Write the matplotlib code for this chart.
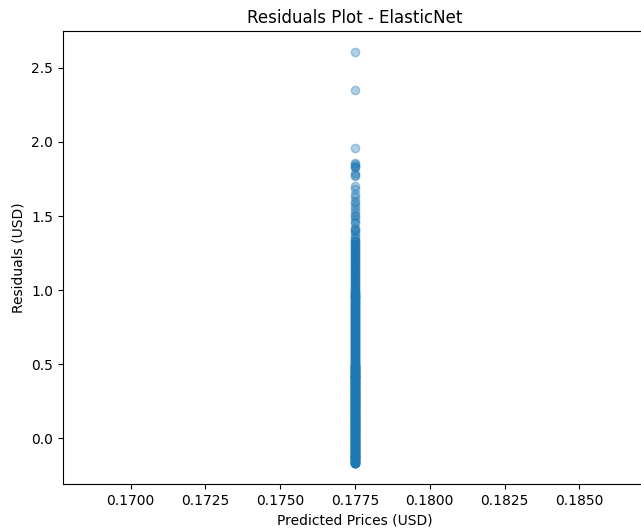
import numpy as np
import matplotlib
matplotlib.use("Agg")
import matplotlib.pyplot as plt

predicted_value = 0.1775

# Outliers and sparse upper points (one point each)
sparse_residuals = [2.61, 2.35, 1.96,
                    1.86, 1.85, 1.84, 1.83, 1.83, 1.79, 1.78, 1.77,
                    1.70, 1.68, 1.65, 1.63, 1.60, 1.59, 1.57, 1.55, 1.53,
                    1.51, 1.50, 1.48, 1.46, 1.45, 1.42, 1.41, 1.40, 1.40,
                    1.38, 1.36, 1.35]

# Dense region: residual value and number of points at that value
dense_residuals = [1.33, 1.31, 1.29, 1.27, 1.25, 1.23, 1.21, 1.19, 1.17, 1.15,
                   1.13, 1.11, 1.09, 1.07, 1.05, 1.03, 1.01,
                   0.99, 0.97, 0.95, 0.93, 0.91, 0.89, 0.87, 0.85, 0.83, 0.81,
                   0.79, 0.77, 0.75, 0.73, 0.71, 0.69, 0.67, 0.65, 0.63, 0.61,
                   0.59, 0.57, 0.55, 0.53, 0.51,
                   0.49, 0.47, 0.45, 0.43, 0.41, 0.39, 0.37, 0.35, 0.33, 0.31,
                   0.29, 0.27, 0.25, 0.23, 0.21, 0.19, 0.17, 0.15, 0.13, 0.11,
                   0.09, 0.07, 0.05, 0.03, 0.01, -0.01, -0.03, -0.05, -0.07,
                   -0.09, -0.11, -0.13, -0.15, -0.17]
dense_counts = [3] * 17 + [5] * 25 + [10] * 34

residuals = np.concatenate([np.array(sparse_residuals),
                            np.repeat(dense_residuals, dense_counts)])
predicted = np.full(residuals.shape, predicted_value)

fig = plt.figure(figsize=(6.41, 5.29), dpi=100)
ax = fig.add_axes([63 / 641, 45 / 529, 584 / 641, 453 / 529])
ax.scatter(predicted, residuals, alpha=0.35)
ax.set_title("Residuals Plot - ElasticNet")
ax.set_xlabel("Predicted Prices (USD)")
ax.set_ylabel("Residuals (USD)")
fig.savefig("out.png", dpi=100)
